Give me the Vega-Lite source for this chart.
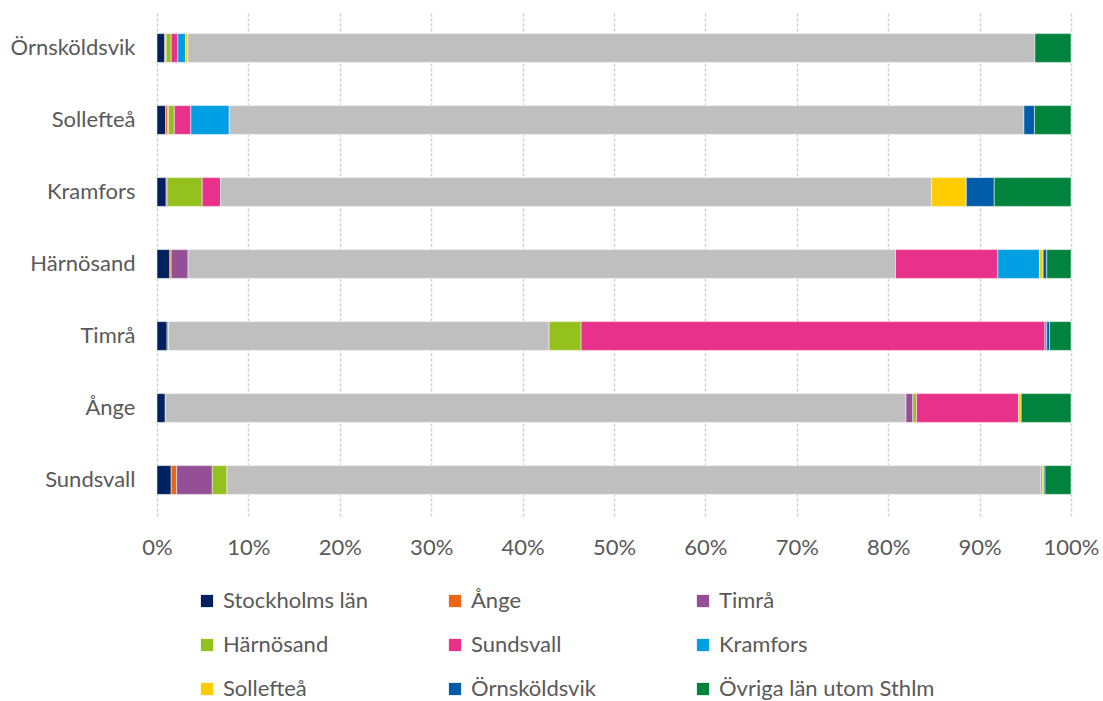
{
  "$schema": "https://vega.github.io/schema/vega-lite/v6.json",
  "width": 914,
  "height": 504,
  "autosize": {"type": "none"},
  "padding": {"left": 157, "top": 12, "right": 32, "bottom": 185},
  "background": "white",
  "config": {
    "view": {"stroke": null},
    "font": "Lato",
    "axis": {"labelFont": "Lato", "labelColor": "#595959", "labelFontSize": 22},
    "legend": {"labelFont": "Lato", "labelColor": "#595959", "labelFontSize": 22}
  },
  "data": {
    "values": [
      {"kommun": "Örnsköldsvik", "serie": "Stockholms län", "ordning": 1, "andel": 0.85},
      {"kommun": "Örnsköldsvik", "serie": "Ånge", "ordning": 2, "andel": 0.1},
      {"kommun": "Örnsköldsvik", "serie": "Timrå", "ordning": 3, "andel": 0.05},
      {"kommun": "Örnsköldsvik", "serie": "Härnösand", "ordning": 4, "andel": 0.55},
      {"kommun": "Örnsköldsvik", "serie": "Sundsvall", "ordning": 5, "andel": 0.73},
      {"kommun": "Örnsköldsvik", "serie": "Kramfors", "ordning": 6, "andel": 0.84},
      {"kommun": "Örnsköldsvik", "serie": "Sollefteå", "ordning": 7, "andel": 0.25},
      {"kommun": "Örnsköldsvik", "serie": "Örnsköldsvik", "ordning": 8, "andel": 92.68},
      {"kommun": "Örnsköldsvik", "serie": "Övriga län utom Sthlm", "ordning": 9, "andel": 3.95},

      {"kommun": "Sollefteå", "serie": "Stockholms län", "ordning": 1, "andel": 0.95},
      {"kommun": "Sollefteå", "serie": "Ånge", "ordning": 2, "andel": 0.2},
      {"kommun": "Sollefteå", "serie": "Timrå", "ordning": 3, "andel": 0.1},
      {"kommun": "Sollefteå", "serie": "Härnösand", "ordning": 4, "andel": 0.65},
      {"kommun": "Sollefteå", "serie": "Sundsvall", "ordning": 5, "andel": 1.8},
      {"kommun": "Sollefteå", "serie": "Kramfors", "ordning": 6, "andel": 4.2},
      {"kommun": "Sollefteå", "serie": "Sollefteå", "ordning": 7, "andel": 86.95},
      {"kommun": "Sollefteå", "serie": "Örnsköldsvik", "ordning": 8, "andel": 1.15},
      {"kommun": "Sollefteå", "serie": "Övriga län utom Sthlm", "ordning": 9, "andel": 4.0},

      {"kommun": "Kramfors", "serie": "Stockholms län", "ordning": 1, "andel": 1.0},
      {"kommun": "Kramfors", "serie": "Timrå", "ordning": 3, "andel": 0.1},
      {"kommun": "Kramfors", "serie": "Härnösand", "ordning": 4, "andel": 3.85},
      {"kommun": "Kramfors", "serie": "Sundsvall", "ordning": 5, "andel": 2.0},
      {"kommun": "Kramfors", "serie": "Kramfors", "ordning": 6, "andel": 77.8},
      {"kommun": "Kramfors", "serie": "Sollefteå", "ordning": 7, "andel": 3.8},
      {"kommun": "Kramfors", "serie": "Örnsköldsvik", "ordning": 8, "andel": 3.05},
      {"kommun": "Kramfors", "serie": "Övriga län utom Sthlm", "ordning": 9, "andel": 8.4},

      {"kommun": "Härnösand", "serie": "Stockholms län", "ordning": 1, "andel": 1.4},
      {"kommun": "Härnösand", "serie": "Ånge", "ordning": 2, "andel": 0.15},
      {"kommun": "Härnösand", "serie": "Timrå", "ordning": 3, "andel": 1.85},
      {"kommun": "Härnösand", "serie": "Härnösand", "ordning": 4, "andel": 77.4},
      {"kommun": "Härnösand", "serie": "Sundsvall", "ordning": 5, "andel": 11.2},
      {"kommun": "Härnösand", "serie": "Kramfors", "ordning": 6, "andel": 4.55},
      {"kommun": "Härnösand", "serie": "Sollefteå", "ordning": 7, "andel": 0.4},
      {"kommun": "Härnösand", "serie": "Örnsköldsvik", "ordning": 8, "andel": 0.4},
      {"kommun": "Härnösand", "serie": "Övriga län utom Sthlm", "ordning": 9, "andel": 2.65},

      {"kommun": "Timrå", "serie": "Stockholms län", "ordning": 1, "andel": 1.1},
      {"kommun": "Timrå", "serie": "Ånge", "ordning": 2, "andel": 0.15},
      {"kommun": "Timrå", "serie": "Timrå", "ordning": 3, "andel": 41.65},
      {"kommun": "Timrå", "serie": "Härnösand", "ordning": 4, "andel": 3.5},
      {"kommun": "Timrå", "serie": "Sundsvall", "ordning": 5, "andel": 50.75},
      {"kommun": "Timrå", "serie": "Kramfors", "ordning": 6, "andel": 0.2},
      {"kommun": "Timrå", "serie": "Örnsköldsvik", "ordning": 8, "andel": 0.3},
      {"kommun": "Timrå", "serie": "Övriga län utom Sthlm", "ordning": 9, "andel": 2.35},

      {"kommun": "Ånge", "serie": "Stockholms län", "ordning": 1, "andel": 0.9},
      {"kommun": "Ånge", "serie": "Ånge", "ordning": 2, "andel": 81.05},
      {"kommun": "Ånge", "serie": "Timrå", "ordning": 3, "andel": 0.75},
      {"kommun": "Ånge", "serie": "Härnösand", "ordning": 4, "andel": 0.4},
      {"kommun": "Ånge", "serie": "Sundsvall", "ordning": 5, "andel": 11.15},
      {"kommun": "Ånge", "serie": "Sollefteå", "ordning": 7, "andel": 0.3},
      {"kommun": "Ånge", "serie": "Övriga län utom Sthlm", "ordning": 9, "andel": 5.45},

      {"kommun": "Sundsvall", "serie": "Stockholms län", "ordning": 1, "andel": 1.55},
      {"kommun": "Sundsvall", "serie": "Ånge", "ordning": 2, "andel": 0.6},
      {"kommun": "Sundsvall", "serie": "Timrå", "ordning": 3, "andel": 3.9},
      {"kommun": "Sundsvall", "serie": "Härnösand", "ordning": 4, "andel": 1.6},
      {"kommun": "Sundsvall", "serie": "Sundsvall", "ordning": 5, "andel": 89.05},
      {"kommun": "Sundsvall", "serie": "Kramfors", "ordning": 6, "andel": 0.15},
      {"kommun": "Sundsvall", "serie": "Sollefteå", "ordning": 7, "andel": 0.15},
      {"kommun": "Sundsvall", "serie": "Örnsköldsvik", "ordning": 8, "andel": 0.15},
      {"kommun": "Sundsvall", "serie": "Övriga län utom Sthlm", "ordning": 9, "andel": 2.85}
    ]
  },
  "mark": {"type": "bar", "stroke": "white", "strokeWidth": 0.5},
  "encoding": {
    "y": {
      "field": "kommun",
      "type": "nominal",
      "sort": ["Örnsköldsvik", "Sollefteå", "Kramfors", "Härnösand", "Timrå", "Ånge", "Sundsvall"],
      "scale": {"paddingInner": 0.6, "paddingOuter": 0.3},
      "axis": {"title": null, "domain": false, "ticks": false, "labelPadding": 22}
    },
    "x": {
      "field": "andel",
      "type": "quantitative",
      "stack": "normalize",
      "scale": {"domain": [0, 1], "nice": false},
      "axis": {
        "title": null,
        "format": ".0%",
        "values": [0, 0.1, 0.2, 0.3, 0.4, 0.5, 0.6, 0.7, 0.8, 0.9, 1],
        "domain": false,
        "ticks": false,
        "labelFlush": false,
        "labelPadding": 21,
        "grid": true,
        "gridColor": "#D0D0D0",
        "gridWidth": 1.5,
        "gridDash": [3, 2]
      }
    },
    "order": {"field": "ordning", "type": "quantitative"},
    "color": {
      "condition": {"test": "datum.serie === datum.kommun", "value": "#BFBFBF"},
      "field": "serie",
      "type": "nominal",
      "scale": {
        "domain": ["Stockholms län", "Ånge", "Timrå", "Härnösand", "Sundsvall", "Kramfors", "Sollefteå", "Örnsköldsvik", "Övriga län utom Sthlm"],
        "range": ["#00215E", "#EC6517", "#954F97", "#95C11F", "#E8318A", "#009FE3", "#FFCC00", "#005CA9", "#00843D"]
      },
      "legend": {
        "title": null,
        "orient": "none",
        "legendX": 39,
        "legendY": 578,
        "direction": "horizontal",
        "columns": 3,
        "gridAlign": "all",
        "columnPadding": 5,
        "rowPadding": 22,
        "labelLimit": 400,
        "symbolType": "square",
        "symbolSize": 150,
        "symbolStrokeWidth": 0,
        "labelOffset": 5,
        "padding": 0
      }
    }
  }
}
